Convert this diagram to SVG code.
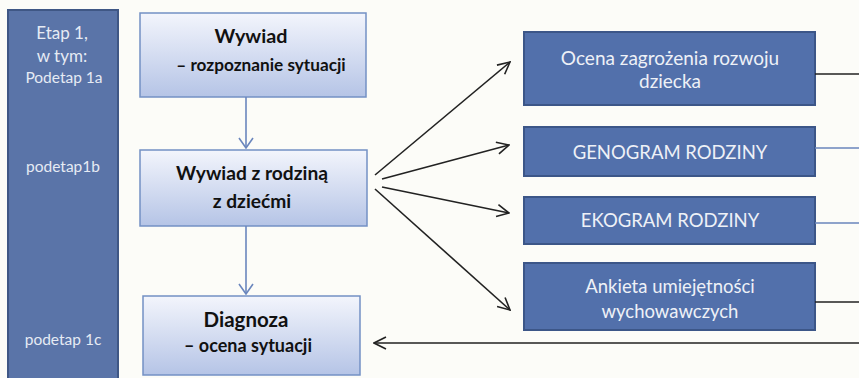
<svg xmlns="http://www.w3.org/2000/svg" width="859" height="378" viewBox="0 0 859 378">
<defs>
<linearGradient id="lg" x1="0" y1="0" x2="0" y2="1">
<stop offset="0" stop-color="#f3f5fc"/>
<stop offset="1" stop-color="#b5c4e6"/>
</linearGradient>
<marker id="hb" viewBox="0 0 12 16" refX="11" refY="8" markerWidth="12" markerHeight="16" markerUnits="userSpaceOnUse" orient="auto">
<path d="M1,1 L11,8 L1,15" fill="none" stroke="#6a86bd" stroke-width="1.6"/>
</marker>
<marker id="hk" viewBox="0 0 14 14" refX="13" refY="7" markerWidth="14" markerHeight="14" markerUnits="userSpaceOnUse" orient="auto">
<path d="M1,1 L13,7 L1,13" fill="none" stroke="#222" stroke-width="1.6"/>
</marker>
</defs>
<style>
.lb{fill:#e6ebf4;font-family:Lato,"Liberation Sans",sans-serif;font-size:15.5px;text-anchor:middle}
.lb.big{font-size:17px}
.gb{fill:url(#lg);stroke:#7390c4;stroke-width:1.5}
.gt{fill:#111;font-family:Lato,"Liberation Sans",sans-serif;font-weight:bold;font-size:19.2px;text-anchor:middle}
.db{fill:#5270ab;stroke:#3c5688;stroke-width:2}
.dt{fill:#eef1f7;font-family:Lato,"Liberation Sans",sans-serif;font-size:18.5px;text-anchor:middle}
.cb{stroke:#6a86bd;stroke-width:1.6;fill:none}
.ck{stroke:#222;stroke-width:1.6;fill:none}
</style>
<rect width="859" height="378" fill="#fcfcf8"/>
<g id="etap">
<rect x="8" y="10" width="110" height="372" fill="#5a74a8" stroke="#3f5785" stroke-width="2"/>
<text class="lb big" x="62" y="39">Etap 1,</text>
<text class="lb big" x="62" y="62">w tym:</text>
<text class="lb" x="64" y="83">Podetap 1a</text>
<text class="lb" x="63" y="172">podetap1b</text>
<text class="lb" x="63" y="345">podetap 1c</text>
</g>
<g id="wywiad">
<rect class="gb" x="140" y="13" width="226" height="84"/>
<text class="gt" x="251" y="43" style="font-size:19.8px">Wywiad</text>
<text class="gt" x="261" y="71" style="font-size:17.2px">– rozpoznanie sytuacji</text>
</g>
<g id="wywiad-rodzina">
<rect class="gb" x="140" y="150" width="227" height="76"/>
<text class="gt" x="252" y="180">Wywiad z rodziną</text>
<text class="gt" x="252" y="208">z dziećmi</text>
</g>
<g id="diagnoza">
<rect class="gb" x="143" y="296" width="217" height="79"/>
<text class="gt" x="246" y="327" style="font-size:20.5px">Diagnoza</text>
<text class="gt" x="248" y="352" style="font-size:18px">– ocena sytuacji</text>
</g>
<g id="ocena">
<rect class="db" x="524" y="32" width="291" height="73"/>
<text class="dt" x="670" y="65" style="font-size:19px">Ocena zagrożenia rozwoju</text>
<text class="dt" x="670" y="88" style="font-size:19px">dziecka</text>
</g>
<g id="genogram">
<rect class="db" x="524" y="127" width="291" height="49"/>
<text class="dt" x="670" y="159">GENOGRAM RODZINY</text>
</g>
<g id="ekogram">
<rect class="db" x="524" y="197" width="291" height="47"/>
<text class="dt" x="670" y="227">EKOGRAM RODZINY</text>
</g>
<g id="ankieta">
<rect class="db" x="524" y="263" width="291" height="67"/>
<text class="dt" x="670" y="293">Ankieta umiejętności</text>
<text class="dt" x="670" y="318">wychowawczych</text>
</g>
<g id="connectors">
<line class="cb" x1="246" y1="97" x2="246" y2="148" marker-end="url(#hb)"/>
<line class="cb" x1="246" y1="226" x2="246" y2="294" marker-end="url(#hb)"/>
<line class="ck" x1="375" y1="175" x2="510" y2="62" marker-end="url(#hk)"/>
<line class="ck" x1="382" y1="179" x2="509" y2="145" marker-end="url(#hk)"/>
<line class="ck" x1="382" y1="187" x2="509" y2="213" marker-end="url(#hk)"/>
<line class="ck" x1="375" y1="189" x2="510" y2="310" marker-end="url(#hk)"/>
<line class="ck" x1="815" y1="74" x2="859" y2="74"/>
<line class="cb" x1="815" y1="148" x2="859" y2="148"/>
<line class="cb" x1="815" y1="223" x2="859" y2="223"/>
<line class="ck" x1="815" y1="302" x2="859" y2="302"/>
<line class="ck" x1="859" y1="343" x2="374" y2="343" marker-end="url(#hk)"/>
</g>
</svg>
